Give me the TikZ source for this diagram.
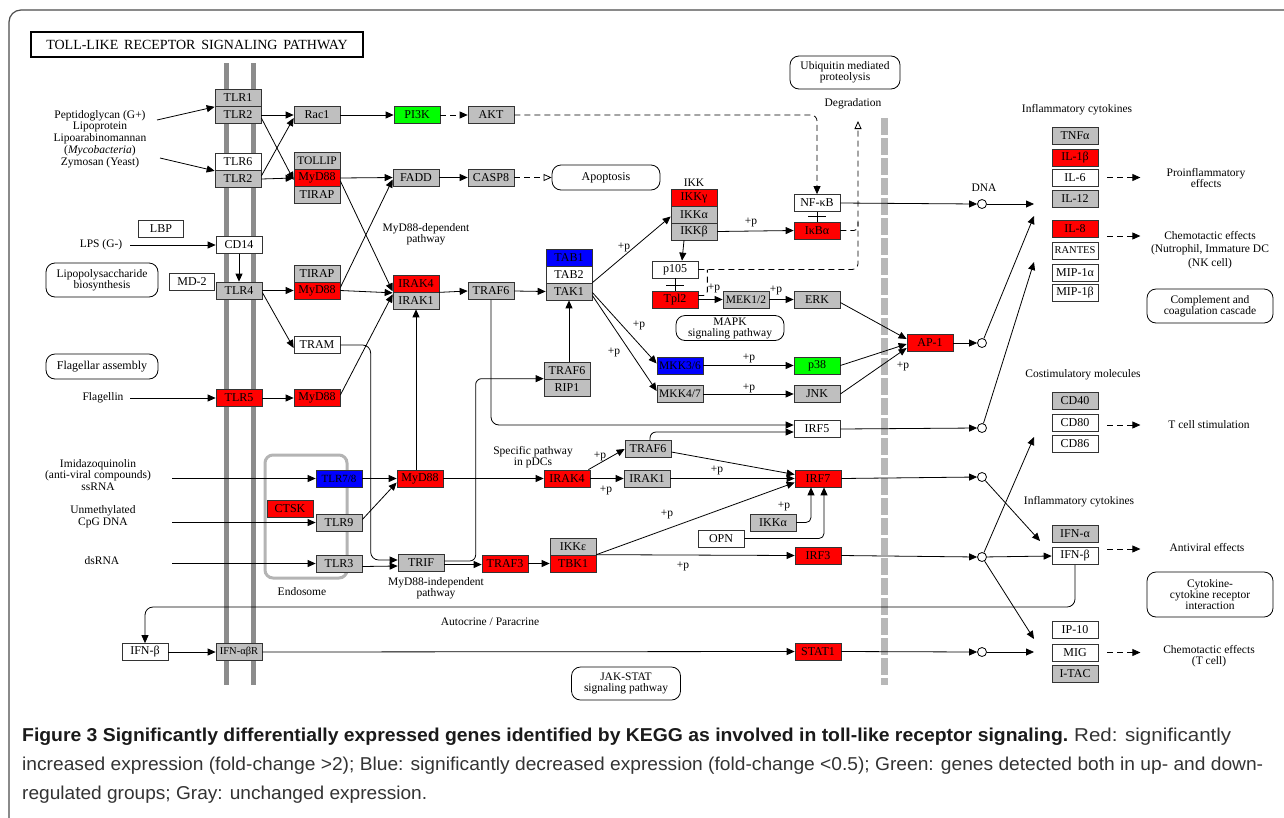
\documentclass[tikz,border=0pt]{standalone}
\usepackage{fontspec}
\setmainfont{Liberation Serif}
\newfontfamily\capfont{Liberation Sans}
\usetikzlibrary{arrows.meta,calc}
\definecolor{kgray}{HTML}{BFBFBF}
\definecolor{kred}{HTML}{FF0000}
\definecolor{kblue}{HTML}{0000FF}
\definecolor{kgreen}{HTML}{00FF00}
\definecolor{membr}{HTML}{8C8C8C}
\definecolor{nucm}{HTML}{B8B8B8}
\definecolor{endoc}{HTML}{B4B4B4}
\definecolor{capdark}{HTML}{1A1A1A}
\definecolor{captext}{HTML}{333333}
\begin{document}
\begin{tikzpicture}[x=1pt,y=-1pt,
  gene/.style={draw=black!80, line width=0.7pt, minimum width=46pt, minimum height=17pt, inner sep=0pt, font=\fontsize{12}{12}\selectfont},
  gg/.style={gene, fill=kgray},
  gr/.style={gene, fill=kred},
  gb/.style={gene, fill=kblue},
  gn/.style={gene, fill=kgreen},
  gw/.style={gene, fill=white},
  lbl/.style={font=\fontsize{11.5}{11.8}\selectfont, align=center, inner sep=0pt},
  pth/.style={draw, rounded corners=9pt, fill=white, line width=0.8pt, align=center, inner sep=0pt, font=\fontsize{11.5}{11}\selectfont},
  dnode/.style={circle, draw, fill=white, minimum size=9pt, inner sep=0pt, line width=0.8pt},
  ln/.style={line width=0.8pt},
  act/.style={ln, -{Triangle[length=8pt,width=7pt]}},
  dact/.style={act, dash pattern=on 6pt off 4pt},
  dln/.style={ln, dash pattern=on 6pt off 4pt},
  oact/.style={ln, dash pattern=on 6pt off 4pt, -{Triangle[open,length=8pt,width=7pt]}}
]
\useasboundingbox (0,0) rectangle (1284,817);
\fill[white] (0,0) rectangle (1284,817);
% frame
\draw[line width=1.2pt, black!70, rounded corners=12pt] (9,830) -- (9,10) -- (1300,10);
% title
\node[draw, line width=2.8pt, minimum width=332pt, minimum height=25pt, inner sep=0pt, font=\fontsize{14}{14}\selectfont] (title) at (197,44.5) {TOLL-LIKE\, RECEPTOR\, SIGNALING\, PATHWAY};
% membranes
\draw[membr, line width=5pt] (226,63) -- (226,685);
\draw[membr, line width=5pt] (253,63) -- (253,685);
\draw[nucm, line width=7pt, dash pattern=on 17pt off 3pt] (884,118) -- (884,685);
\draw[endoc, line width=3pt, rounded corners=8pt] (265,455) rectangle (347,578);

% ---------- gene nodes ----------
\node[gg] (tlra) at (238,98) {TLR1};
\node[gg] (tlrb) at (238,115) {TLR2};
\node[gw] (tlr6) at (238,162) {TLR6};
\node[gg] (tlr2b) at (238,179) {TLR2};
\node[gw, minimum width=45pt] (lbp) at (161,229) {LBP};
\node[gw] (cd14) at (239,245) {CD14};
\node[gw, minimum width=45pt] (md2) at (192,282) {MD-2};
\node[gg] (tlr4) at (239,290.5) {TLR4};
\node[gr] (tlr5) at (239,398) {TLR5};
\node[gb, font=\fontsize{11}{12}\selectfont] (tlr78) at (339,478.5) {TLR7/8};
\node[gr] (ctsk) at (290,509) {CTSK};
\node[gg] (tlr9) at (339,522.5) {TLR9};
\node[gg] (tlr3) at (339,563.5) {TLR3};
\node[gw] (ifnbl) at (145,652) {IFN-β};
\node[gg, font=\fontsize{10.5}{12}\selectfont] (ifnr) at (239,652) {IFN-αβR};

\node[gg] (rac1) at (317,115) {Rac1};
\node[gg, font=\fontsize{11.5}{12}\selectfont] (tollip) at (317,161) {TOLLIP};
\node[gr] (myd1) at (317,178) {MyD88};
\node[gg] (tirap1) at (317,195) {TIRAP};
\node[gg] (tirap2) at (317,273.5) {TIRAP};
\node[gr] (myd2) at (317,290.5) {MyD88};
\node[gw] (tram) at (317,345) {TRAM};
\node[gr] (myd3) at (317,398) {MyD88};
\node[gr] (myd4) at (420,478.5) {MyD88};

\node[gn] (pi3k) at (417,115) {PI3K};
\node[gg] (akt) at (491,115) {AKT};
\node[gg] (fadd) at (416,177.5) {FADD};
\node[gg] (casp8) at (491,177.5) {CASP8};
\node[gr] (irak4) at (416,283.5) {IRAK4};
\node[gg] (irak1) at (416,300.5) {IRAK1};
\node[gg] (traf6a) at (491,291) {TRAF6};
\node[gb] (tab1) at (569,257.5) {TAB1};
\node[gw] (tab2) at (569,274.5) {TAB2};
\node[gg] (tak1) at (569,291.5) {TAK1};
\node[gg] (traf6b) at (567,370.5) {TRAF6};
\node[gg] (rip1) at (567,387.5) {RIP1};
\node[gr] (ikkg) at (694,197.5) {IKKγ};
\node[gg] (ikka) at (694,214.5) {IKKα};
\node[gg] (ikkb) at (694,231.5) {IKKβ};
\node[gw] (nfkb) at (817,203) {NF-κB};
\node[gr] (ikba) at (817,230.5) {IκBα};
\node[gw] (p105) at (675,269.5) {p105};
\node[gr] (tpl2) at (675,299.5) {Tpl2};
\node[gg, font=\fontsize{11.5}{12}\selectfont] (mek) at (746,299.5) {MEK1/2};
\node[gg] (erk) at (817,299.5) {ERK};
\node[gb, font=\fontsize{11.5}{12}\selectfont] (mkk36) at (680,365.5) {MKK3/6};
\node[gn] (p38) at (817,365.5) {p38};
\node[gg, font=\fontsize{11.5}{12}\selectfont] (mkk47) at (680,394) {MKK4/7};
\node[gg] (jnk) at (817,394) {JNK};
\node[gw] (irf5) at (817,429) {IRF5};
\node[gr] (ap1) at (930,343) {AP-1};

\node[gg] (trif) at (421,563) {TRIF};
\node[gr] (traf3) at (505,563.5) {TRAF3};
\node[gg] (ikke) at (573,546.5) {IKKε};
\node[gr] (tbk1) at (573,563.5) {TBK1};
\node[gr] (irak4b) at (567,478.5) {IRAK4};
\node[gg] (irak1b) at (647,478.5) {IRAK1};
\node[gg] (traf6c) at (648,449) {TRAF6};
\node[gr] (irf7) at (818,478.5) {IRF7};
\node[gg] (ikkab) at (773,522.5) {IKKα};
\node[gw] (opn) at (721,538.5) {OPN};
\node[gr] (irf3) at (818,555.5) {IRF3};
\node[gr] (stat1) at (818,651.5) {STAT1};

\node[gg] (tnfa) at (1075,136) {TNFα};
\node[gr] (il1b) at (1075,157.5) {IL-1β};
\node[gw] (il6) at (1075,177.5) {IL-6};
\node[gg] (il12) at (1075,198.5) {IL-12};
\node[gr] (il8) at (1075,228.5) {IL-8};
\node[gw, font=\fontsize{10.5}{12}\selectfont] (rantes) at (1075,250.5) {RANTES};
\node[gw] (mip1a) at (1075,272.5) {MIP-1α};
\node[gw] (mip1b) at (1075,292.5) {MIP-1β};
\node[gg] (cd40) at (1075,400.5) {CD40};
\node[gw] (cd80) at (1075,422.5) {CD80};
\node[gw] (cd86) at (1075,444) {CD86};
\node[gg] (ifna) at (1075,533.5) {IFN-α};
\node[gw] (ifnbr) at (1075,556) {IFN-β};
\node[gw] (ip10) at (1075,630) {IP-10};
\node[gw] (mig) at (1075,652.5) {MIG};
\node[gg] (itac) at (1075,674) {I-TAC};

% DNA circles
\node[dnode] (c1) at (982,204) {};
\node[dnode] (c2) at (982,343) {};
\node[dnode] (c3) at (982,428) {};
\node[dnode] (c4) at (982,477) {};
\node[dnode] (c5) at (982,557) {};
\node[dnode] (c6) at (982,652) {};

% pathway boxes
\node[pth, minimum width=110pt, minimum height=33pt] (ubiq) at (845,72.5) {Ubiquitin mediated\\proteolysis};
\node[pth, minimum width=108pt, minimum height=25pt, font=\fontsize{12}{12}\selectfont] (apop) at (606,177.5) {Apoptosis};
\node[pth, minimum width=108pt, minimum height=25pt] (mapk) at (730,328) {MAPK\\signaling pathway};
\node[pth, minimum width=112pt, minimum height=34pt] (lpsb) at (102,280) {Lipopolysaccharide\\biosynthesis};
\node[pth, minimum width=112pt, minimum height=25pt, font=\fontsize{12}{12}\selectfont] (flab) at (102,366.5) {Flagellar assembly};
\node[pth, minimum width=126pt, minimum height=34pt] (compl) at (1210,306) {Complement and\\coagulation cascade};
\node[pth, minimum width=126pt, minimum height=45pt] (cytb) at (1210,594.5) {Cytokine-\\cytokine receptor\\interaction};
\node[pth, minimum width=109pt, minimum height=33pt] (jak) at (626,683.5) {JAK-STAT\\signaling pathway};

% text labels
\node[lbl] (pep) at (100,139) {Peptidoglycan (G+)\\Lipoprotein\\Lipoarabinomannan\\(\textit{Mycobacteria})\\Zymosan (Yeast)};
\node[lbl] (lps) at (101,245) {LPS (G-)};
\node[lbl] (flg) at (103,398) {Flagellin};
\node[lbl] (imq) at (98,475) {Imidazoquinolin\\(anti-viral compounds)\\ssRNA};
\node[lbl] (cpg) at (103,517) {Unmethylated\\CpG DNA};
\node[lbl] (dsr) at (102,561) {dsRNA};
\node[lbl] (degl) at (853,104) {Degradation};
\node[lbl] (dnal) at (984,188) {DNA};
\node[lbl] (ikkl) at (694,183) {IKK};
\node[lbl, font=\fontsize{11.5}{10.5}\selectfont] (mdep) at (426,234) {MyD88-dependent\\pathway};
\node[lbl, font=\fontsize{11.5}{10.5}\selectfont] (spec) at (533,457) {Specific pathway\\in pDCs};
\node[lbl, font=\fontsize{11.5}{10.5}\selectfont] (mind) at (436,588) {MyD88-independent\\pathway};
\node[lbl] (endol) at (302,592) {Endosome};
\node[lbl] (autol) at (490,622) {Autocrine / Paracrine};
\node[lbl] (ic1) at (1077,110) {Inflammatory cytokines};
\node[lbl] (csm) at (1083,375) {Costimulatory molecules};
\node[lbl] (ic2) at (1079,502) {Inflammatory cytokines};
\node[lbl, font=\fontsize{11.5}{10.5}\selectfont] (eff1) at (1206,178) {Proinflammatory\\effects};
\node[lbl, font=\fontsize{11.5}{13.5}\selectfont] (eff2) at (1210,250) {Chemotactic effects\\(Nutrophil, Immature DC\\(NK cell)};
\node[lbl] (eff3) at (1209,425) {T cell stimulation};
\node[lbl] (eff4) at (1207,547) {Antiviral effects};
\node[lbl, font=\fontsize{11.5}{11}\selectfont] (eff5) at (1209,656) {Chemotactic effects\\(T cell)};

% +p labels
\node[lbl] (pp1) at (624,247) {+p};
\node[lbl] (pp2) at (639,325) {+p};
\node[lbl] (pp3) at (614,352) {+p};
\node[lbl] (pp4) at (751,222) {+p};
\node[lbl] (pp5) at (714,288) {+p};
\node[lbl] (pp6) at (776,290) {+p};
\node[lbl] (pp7) at (749,358) {+p};
\node[lbl] (pp8) at (749,388) {+p};
\node[lbl] (pp9) at (903,366) {+p};
\node[lbl] (pp10) at (600,456) {+p};
\node[lbl] (pp11) at (606,490) {+p};
\node[lbl] (pp12) at (717,470) {+p};
\node[lbl] (pp13) at (667,514) {+p};
\node[lbl] (pp14) at (784,506) {+p};
\node[lbl] (pp15) at (683,566) {+p};

% free ends
\coordinate (pa1) at (157,120);
\coordinate (pa2) at (160,158);
\coordinate (la) at (130,245);
\coordinate (fa) at (130,398);
\coordinate (ia) at (172,478.5);
\coordinate (ca) at (172,522.5);
\coordinate (da) at (172,563.5);
\coordinate (degr) at (858,121);
\coordinate (t1) at (1034,204);
\coordinate (t2) at (1034,216);
\coordinate (t3) at (1034,262);
\coordinate (t4) at (1034,437);
\coordinate (t5) at (1040,541);
\coordinate (t6) at (1034,639);
\coordinate (t7) at (1034,652);
\coordinate (loopy) at (0,607);

% ---------- connectors ----------
\draw[act] (pa1) -- (tlra.south west);
\draw[act] (pa2) -- (tlr6.south west);
\draw[act] (tlrb.east) -- (rac1.west);
\draw[act] ([yshift=-3pt]tlrb.east) -- ([yshift=-2pt]myd1.west);
\draw[act] ([yshift=3pt]tlr2b.east) -- ([yshift=-3pt]rac1.west);
\draw[act] (tlr2b.east) -- (myd1.west);
\draw[act] (rac1.east) -- (pi3k.west);
\draw[dact] (pi3k.east) -- (akt.west);
\draw[dact, rounded corners=6pt] (akt.east) -| (nfkb.north);
\draw[act] (myd1.east) -- (fadd.west);
\draw[act] ([yshift=-3pt]myd1.east) -- ([yshift=1pt]irak4.south west);
\draw[act] ([yshift=3pt]myd2.east) -- ([yshift=-2pt]fadd.west);
\draw[act] (myd2.east) -- ([yshift=-0.5pt]irak4.south west);
\draw[act] ([yshift=3pt]myd3.east) -- ([yshift=-2pt]irak4.south west);
\draw[act] (fadd.east) -- (casp8.west);
\draw[oact] (casp8.east) -- (apop.west);
\draw[act] (irak4.south east) -- (traf6a.west);
\draw[act] (traf6a.east) -- (tak1.west);
\draw[act, rounded corners=8pt] (traf6a.south) |- ([yshift=4pt]irf5.west);
\draw[act] (tak1.north east) -- ([yshift=-2pt]ikka.west);
\draw[act] ([yshift=-1pt]tak1.east) -- ([yshift=2pt]mkk36.west);
\draw[act] ([yshift=-4pt]tak1.east) -- ([yshift=3pt]mkk47.west);
\draw[act] (tak1.south |- traf6b.north) -- (tak1.south);
\draw[act] (ikkb.east) -- (ikba.west);
\draw[act] ([xshift=-10pt]ikkb.south) -- ([xshift=7pt]p105.north);
\draw[ln] (nfkb.south) -- (ikba.north);
\draw[ln] (808,216.5) -- (826,216.5);
\draw[ln] (p105.south) -- (tpl2.north);
\draw[ln] (666,285) -- (684,285);
\draw[act] (tpl2.east) -- (mek.west);
\draw[act] (mek.east) -- (erk.west);
\draw[act] (mkk36.east) -- (p38.west);
\draw[act] (mkk47.east) -- (jnk.west);
\draw[act] ([yshift=-3pt]erk.east) -- ([yshift=4pt]ap1.west);
\draw[act] (p38.east) -- ([yshift=-1pt]ap1.west);
\draw[act] (jnk.east) -- ([yshift=-5pt]ap1.west);
\draw[oact, rounded corners=6pt] (p105.east) -| (degr);
\draw[dln, rounded corners=4pt] ([yshift=4pt]tpl2.east) -| ([xshift=9pt]p105.east);
\draw[dln, rounded corners=4pt] (ikba.east) -| (858,222);
\draw[act] (nfkb.east) -- (c1.west);
\draw[act] (c1.east) -- (t1);
\draw[act] (ap1.east) -- (c2.west);
\draw[act] (c2) -- (t2);
\draw[act] (irf5.east) -- (c3.west);
\draw[act] (c3) -- (t3);
\draw[act] (irf7.east) -- (c4.west);
\draw[act] (c4) -- (t5);
\draw[act] (irf3.east) -- (c5.west);
\draw[act] (c5) -- (ifnbr.west);
\draw[act] (c5) -- (t4);
\draw[act] (c5) -- (t6);
\draw[act] (stat1.east) -- (c6.west);
\draw[act] (c6.east) -- (t7);
\draw[act, rounded corners=8pt] (ifnbr.south) -- (ifnbr.south |- loopy) -- (ifnbl.north |- loopy) -- (ifnbl.north);
\draw[act] (ifnbl.east) -- (ifnr.west);
\draw[act] (ifnr.east) -- (stat1.west);
\draw[act] (la) -- (cd14.west);
\draw[act] (cd14.south) -- (tlr4.north);
\draw[act] (tlr4.east) -- (myd2.west);
\draw[act] ([yshift=-2pt]tlr4.east) -- ([yshift=-3pt]tram.west);
\draw[act] (fa) -- (tlr5.west);
\draw[act] (tlr5.east) -- (myd3.west);
\draw[act, rounded corners=8pt] (tram.east) -| ([xshift=-27pt,yshift=3pt]trif.west) -- ([yshift=3pt]trif.west);
\draw[act] (ia) -- (tlr78.west);
\draw[act] (tlr78.east) -- (myd4.west);
\draw[act] (ca) -- (tlr9.west);
\draw[act] ([yshift=3pt]tlr9.east) -- ([yshift=-4pt]myd4.west);
\draw[act] (da) -- (tlr3.west);
\draw[act] ([yshift=-3pt]tlr3.east) -- ([yshift=-3pt]trif.west);
\draw[act] (irak1.south |- myd4.north) -- (irak1.south);
\draw[act] (myd4.east) -- (irak4b.west);
\draw[act] ([xshift=-2pt]irak4b.north east) -- (traf6c.west);
\draw[act] (irak4b.east) -- (irak1b.west);
\draw[act] (irak1b.east) -- (irf7.west);
\draw[act] ([yshift=-3pt]traf6c.east) -- ([yshift=4pt]irf7.west);
\draw[act, rounded corners=6pt] ([xshift=2pt]traf6c.north) |- ([yshift=-3pt]irf5.west);
\draw[act] (tbk1.north east) -- ([yshift=-4pt]irf7.west);
\draw[act] (tbk1.north east) -- (irf3.west);
\draw[act, rounded corners=5pt] (ikkab.east) -| ([xshift=-7pt]irf7.south);
\draw[act, rounded corners=5pt] (opn.east) -| ([xshift=6pt]irf7.south);
\draw[act] ([yshift=-1.5pt]trif.east) -- ([yshift=-1pt]traf3.west);
\draw[act, rounded corners=6pt] ([yshift=2pt]trif.east) -| ([xshift=-68pt]rip1.north west) -- (rip1.north west);
\draw[act] (traf3.east) -- (tbk1.west);
% effect arrows
\draw[dact] ([xshift=9pt]il6.east) -- ([xshift=42pt]il6.east);
\draw[dact] ([xshift=9pt,yshift=-7.5pt]il8.east) -- ([xshift=42pt,yshift=-7.5pt]il8.east);
\draw[dact] ([xshift=9pt,yshift=-2.5pt]cd80.east) -- ([xshift=42pt,yshift=-2.5pt]cd80.east);
\draw[dact] ([xshift=9pt,yshift=7pt]ifnbr.east) -- ([xshift=42pt,yshift=7pt]ifnbr.east);
\draw[dact] ([xshift=9pt]mig.east) -- ([xshift=42pt]mig.east);

% caption
\node[anchor=base west, inner sep=0pt] (cap1a) at (22,741) {\resizebox{1046pt}{13.5pt}{\capfont\color{capdark}\textbf{Figure 3 Significantly differentially expressed genes identified by KEGG as involved in toll-like receptor signaling.}}};
\node[anchor=base west, inner sep=0pt] (cap1b) at (1074,741) {\resizebox{157pt}{13.5pt}{\capfont\color{captext}Red: significantly}};
\node[anchor=base west, inner sep=0pt] (cap2) at (22,770) {\resizebox{1241pt}{13.5pt}{\capfont\color{captext}increased expression (fold-change >2); Blue: significantly decreased expression (fold-change <0.5); Green: genes detected both in up- and down-}};
\node[anchor=base west, inner sep=0pt] (cap3) at (22,799) {\resizebox{405pt}{13.5pt}{\capfont\color{captext}regulated groups; Gray: unchanged expression.}};
\end{tikzpicture}
\end{document}
